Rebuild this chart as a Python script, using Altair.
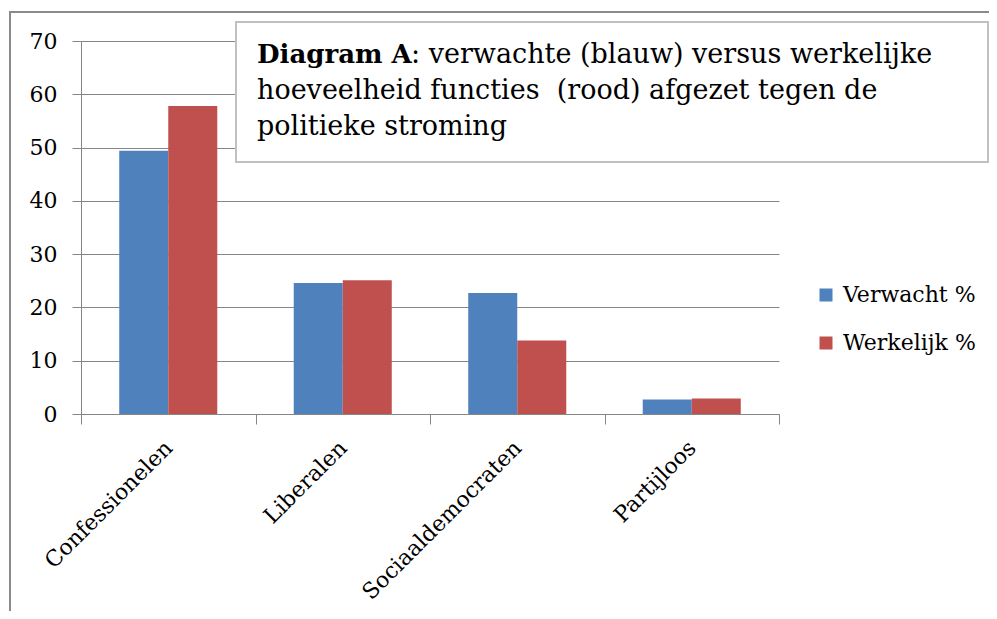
import altair as alt
import pandas as pd

categories = ["Confessionelen", "Liberalen", "Sociaaldemocraten", "Partijloos"]
series = ["Verwacht %", "Werkelijk %"]
verwacht = [49.4, 24.6, 22.7, 2.7]
werkelijk = [57.8, 25.1, 13.8, 2.9]
y_ticks = [0, 10, 20, 30, 40, 50, 60, 70]
colors = ["#4F81BD", "#C0504D"]

title_bold = "Diagram A"
title_line1 = ": verwachte (blauw) versus werkelijke"
title_line2 = "hoeveelheid functies \u00a0(rood) afgezet tegen de"
title_line3 = "politieke stroming"

rows = []
for c, v, w in zip(categories, verwacht, werkelijk):
    rows.append({"cat": c, "serie": series[0], "value": v})
    rows.append({"cat": c, "serie": series[1], "value": w})
df = pd.DataFrame(rows)

FONT = "DejaVu Serif"
GRID = "#868686"

bars = alt.Chart(df).mark_bar().encode(
    x=alt.X(
        "cat:N",
        sort=categories,
        scale=alt.Scale(paddingInner=0, paddingOuter=0),
        axis=alt.Axis(
            title=None,
            tickBand="extent",
            tickSize=10,
            tickColor=GRID,
            domainColor=GRID,
            labelAngle=315,
            labelAlign="right",
            labelBaseline="middle",
            labelFont=FONT,
            labelFontSize=22,
            labelColor="black",
            labelPadding=20,
            labelOffset=0,
            labelLimit=0,
            grid=False,
        ),
    ),
    xOffset=alt.XOffset(
        "serie:N", sort=series, scale=alt.Scale(paddingInner=0, paddingOuter=0.78)
    ),
    y=alt.Y(
        "value:Q",
        scale=alt.Scale(domain=[0, 70], nice=False),
        axis=alt.Axis(
            title=None,
            values=y_ticks,
            grid=True,
            gridColor=GRID,
            domainColor=GRID,
            tickColor=GRID,
            tickSize=9,
            labelFont=FONT,
            labelFontSize=22,
            labelColor="black",
            labelPadding=15,
        ),
    ),
    color=alt.Color(
        "serie:N",
        sort=series,
        scale=alt.Scale(domain=series, range=colors),
        legend=alt.Legend(
            title=None,
            orient="none",
            legendX=734,
            legendY=243,
            symbolType="square",
            symbolSize=169,
            symbolStrokeWidth=0,
            labelFont=FONT,
            labelFontSize=22,
            labelColor="black",
            labelOffset=6,
            rowPadding=26,
            padding=0,
        ),
    ),
)

one = pd.DataFrame({"a": [0]})

frame = alt.Chart(one).mark_rect(fill=None, stroke="#8a8a8a", strokeWidth=2).encode(
    x=alt.value(-71), y=alt.value(-29), x2=alt.value(960), y2=alt.value(700)
)

box = alt.Chart(one).mark_rect(fill="white", stroke="#c0c0c0", strokeWidth=2).encode(
    x=alt.value(155), y=alt.value(-19), x2=alt.value(907), y2=alt.value(121)
)

def txt(s, x, y, size=27, bold=False):
    return alt.Chart(pd.DataFrame({"t": [s]})).mark_text(
        font=FONT,
        fontSize=size,
        fontWeight="bold" if bold else "normal",
        align="left",
        baseline="alphabetic",
        color="black",
    ).encode(text="t:N", x=alt.value(x), y=alt.value(y))

texts = (
    txt(title_bold, 176, 22, size=26, bold=True)
    + txt(title_line1, 330, 22)
    + txt(title_line2, 176, 58)
    + txt(title_line3, 176, 94)
)

chart = alt.layer(frame, bars, box, texts).properties(
    width=698,
    height=373,
    autosize=alt.AutoSizeParams(type="none"),
    padding={"left": 73, "top": 33, "right": 210, "bottom": 197},
).configure_view(stroke=None)

chart.save("out.html", embed_options={"renderer": "svg", "actions": False})
